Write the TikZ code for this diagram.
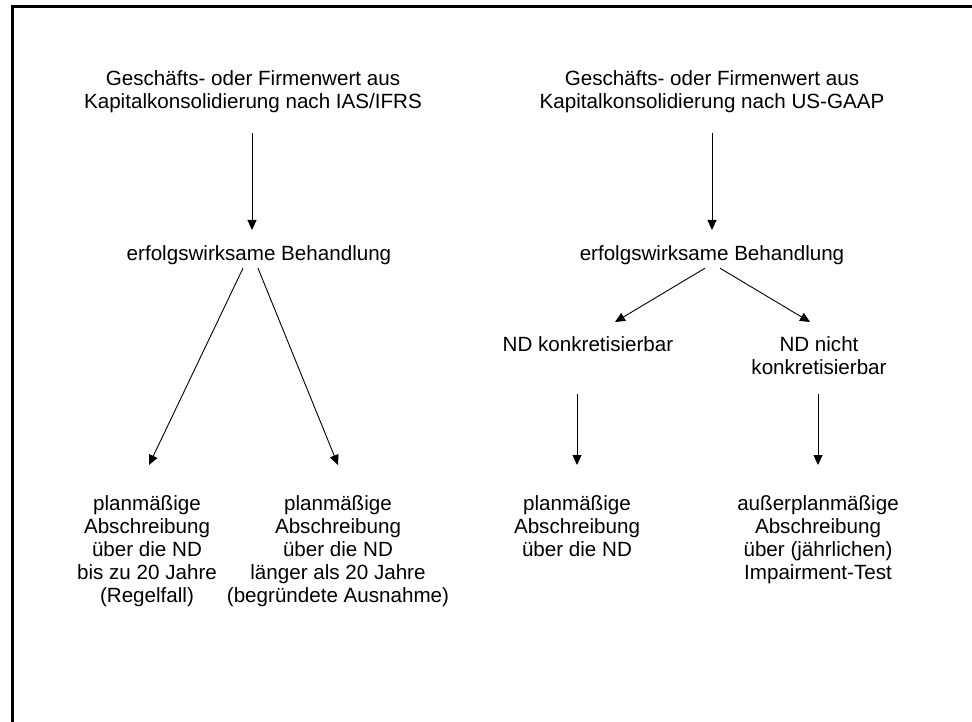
\documentclass[tikz,border=0pt]{standalone}
\usepackage{fontspec}
\setmainfont{Liberation Sans}
\usetikzlibrary{arrows.meta}
\begin{document}
\begin{tikzpicture}[x=1pt,y=-1pt,
  lbl/.style={inner sep=0pt, outer sep=0pt, align=center, anchor=north,
    font=\fontsize{20.6}{22.8}\selectfont},
  arr/.style={line width=0.9pt, -{Triangle[length=10pt,width=9pt]}}]
\useasboundingbox (0,0) rectangle (972,722);
\fill[white] (0,0) rectangle (972,722);
\draw[line width=3pt] (12,722) -- (12,7) -- (972,7);

% left column (IAS/IFRS)
\node[lbl] (A1) at (253,71) {Geschäfts- oder Firmenwert aus\\Kapitalkonsolidierung nach IAS/IFRS};
\node[lbl] (B1) at (259,246) {erfolgswirksame Behandlung};
\node[lbl] (C1) at (147,496) {planmäßige\\Abschreibung\\über die ND\\bis zu 20 Jahre\\(Regelfall)};
\node[lbl] (C2) at (338,496) {planmäßige\\Abschreibung\\über die ND\\länger als 20 Jahre\\(begründete Ausnahme)};

% right column (US-GAAP)
\node[lbl] (A2) at (712,71) {Geschäfts- oder Firmenwert aus\\Kapitalkonsolidierung nach US-GAAP};
\node[lbl] (B2) at (712,246) {erfolgswirksame Behandlung};
\node[lbl] (D1) at (588,337) {ND konkretisierbar};
\node[lbl] (D2) at (819,337) {ND nicht\\konkretisierbar};
\node[lbl] (E1) at (577,496) {planmäßige\\Abschreibung\\über die ND};
\node[lbl] (E2) at (818,496) {außerplanmäßige\\Abschreibung\\über (jährlichen)\\Impairment-Test};

% connectors
\draw[arr, shorten <=20pt, shorten >=16pt] ([xshift=-1pt]A1.south) -- ([xshift=-7pt]B1.north);
\draw[arr, shorten <=20pt, shorten >=16pt] (A2.south) -- (B2.north);
\draw[arr] ([xshift=-16pt,yshift=-3pt]B1.south) -- ([xshift=2pt,yshift=31pt]C1.north);
\draw[arr] ([xshift=-1pt,yshift=-3pt]B1.south) -- ([yshift=31pt]C2.north);
\draw[arr] ([xshift=-7pt,yshift=-3pt]B2.south) -- ([xshift=27pt,yshift=15pt]D1.north);
\draw[arr] ([xshift=8pt,yshift=-3pt]B2.south) -- ([xshift=-9pt,yshift=15pt]D2.north);
\draw[arr] ([xshift=-11pt,yshift=-42pt]D1.south) -- ([yshift=31pt]E1.north);
\draw[arr] ([xshift=-1pt,yshift=-19pt]D2.south) -- ([yshift=31pt]E2.north);
\end{tikzpicture}
\end{document}
